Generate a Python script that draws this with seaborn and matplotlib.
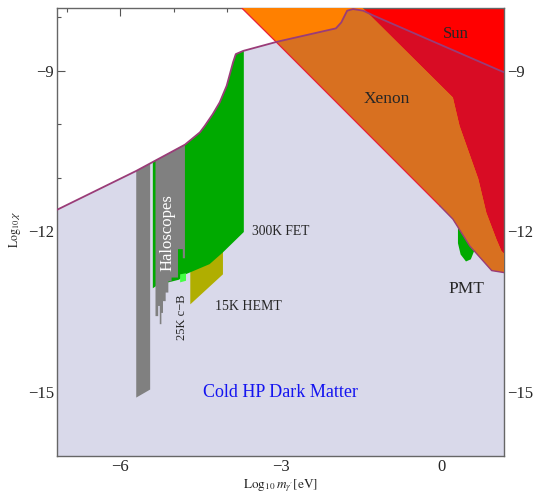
import numpy as np
import matplotlib
matplotlib.use("Agg")
import matplotlib.pyplot as plt
from matplotlib.ticker import MultipleLocator
import seaborn as sns

# upper edge of the cold hidden-photon dark matter region (log10 m [eV], log10 chi)
dm_x = [-7.25, -5.70, -4.79, -4.51, -4.42, -4.27, -4.14, -4.01, -3.89, -3.84, -3.70,
        -3.07, -1.97, -1.87, -1.76, -1.65, -1.46, -1.27, 1.10, 1.25]
dm_y = [-11.63, -10.87, -10.38, -10.15, -10.03, -9.81, -9.59, -9.28, -8.84, -8.69, -8.63,
        -8.46, -8.21, -8.10, -7.88, -7.85, -7.88, -7.97, -9.00, -9.06]

# xenon bound outline
xenon_x = [-3.86, -3.08, -0.03, 0.215, 0.53, 0.94, 1.25, 1.25, 1.12, 1.03, 0.84, 0.69,
           0.34, 0.215, -1.60]
xenon_y = [-7.70, -8.47, -11.52, -11.77, -12.27, -12.73, -12.78, -12.50, -12.36, -12.15,
           -11.65, -11.02, -10.03, -9.50, -7.70]

# sun bound outline (partly under xenon)
sun_x = [-1.70, 1.30, 1.30, 0.90, 0.50, -0.20]
sun_y = [-7.70, -7.70, -12.90, -12.00, -10.80, -9.30]

# 300K FET (green), lower edge from right to left
fet_x0, fet_x1 = -5.39, -3.69
fet_bot_x = [-3.69, -4.08, -4.33, -4.78, -4.90, -5.30, -5.39]
fet_bot_y = [-12.01, -12.39, -12.61, -12.80, -12.90, -13.00, -13.06]

# 15K HEMT (olive)
hemt_x = [-4.69, -4.08, -4.08, -4.69]
hemt_y = [-12.70, -12.30, -12.80, -13.36]

# 25K c-B (light green)
cb_x = [-4.88, -4.77, -4.77, -4.88]
cb_y = [-12.80, -12.78, -12.92, -12.95]

# haloscopes: one long bar and a block with ragged bottom
halo1_x = [-5.70, -5.44]
halo1_bot = [-15.10, -14.95]
halo2_edges = [-5.34, -5.29, -5.26, -5.23, -5.20, -5.15, -5.10, -5.04, -4.98, -4.92,
               -4.89, -4.83, -4.79]
halo2_bot = [-13.58, -13.39, -13.73, -13.52, -13.30, -13.14, -12.93, -12.86, -12.86,
             -12.33, -12.33, -12.50]

# PMT blob
pmt_x = [0.31, 0.31, 0.36, 0.46, 0.55, 0.61, 0.62, 0.45]
pmt_y = [-11.85, -12.22, -12.43, -12.56, -12.52, -12.37, -12.20, -11.85]

sns.set_style("ticks")
plt.rcParams["font.family"] = ["Liberation Serif", "DejaVu Serif"]
plt.rcParams["mathtext.fontset"] = "stix"

lavender = "#D9D9EA"
purple = "#9A3C78"

fig = plt.figure(figsize=(5.35, 4.94), dpi=100)
ax = fig.add_axes([57 / 535, 1 - 456 / 494, 447 / 535, 448 / 494])


def dm_top(x):
    return np.interp(x, dm_x, dm_y)


# dark matter region
dm_patch = ax.fill(dm_x + [dm_x[-1], dm_x[0]], dm_y + [-16.5, -16.5],
                   color=lavender, lw=0, zorder=1)[0]

ax.fill(pmt_x, pmt_y, color="#00AA00", lw=0, zorder=1.5)

# sun: bright outside DM region, darker inside
ax.fill(sun_x, sun_y, color="#FF0000", lw=0, zorder=2)
p = ax.fill(sun_x, sun_y, color="#D80C24", lw=0, zorder=2.1)[0]
p.set_clip_path(dm_patch)

# xenon
ax.fill(xenon_x, xenon_y, color="#FF8000", lw=0, zorder=3)
p = ax.fill(xenon_x, xenon_y, color="#D87020", lw=0, zorder=3.1)[0]
p.set_clip_path(dm_patch)
ax.plot(xenon_x[:3], xenon_y[:3], color="#E8203A", lw=0.9, zorder=3.2)
ax.plot(xenon_x[2:7], xenon_y[2:7], color=purple, lw=1.0, zorder=3.2)

# lab experiments
ax.fill(hemt_x, hemt_y, color="#B0AE00", lw=0, zorder=4)
seg = [x for x in dm_x if fet_x0 < x < fet_x1]
fx = [fet_x0] + seg + [fet_x1] + fet_bot_x
fy = [dm_top(fet_x0)] + [dm_top(x) for x in seg] + [dm_top(fet_x1)] + fet_bot_y
ax.fill(fx, fy, color="#00AA00", lw=0, zorder=4.1)
ax.fill(cb_x, cb_y, color="#44FF44", lw=0, zorder=4.2)

hx = [halo1_x[0], halo1_x[1], halo1_x[1], halo1_x[0]]
hy = [dm_top(halo1_x[0]), dm_top(halo1_x[1]), halo1_bot[1], halo1_bot[0]]
ax.fill(hx, hy, color="#808080", lw=0, zorder=4.3)

hx = [halo2_edges[0], halo2_edges[-1]]
hy = [dm_top(halo2_edges[0]), dm_top(halo2_edges[-1])]
for i in range(len(halo2_bot) - 1, -1, -1):
    hx += [halo2_edges[i + 1], halo2_edges[i]]
    hy += [halo2_bot[i], halo2_bot[i]]
ax.fill(hx, hy, color="#808080", lw=0, zorder=4.3)

# DM boundary line
sns.lineplot(x=dm_x, y=dm_y, color=purple, lw=1.3, ax=ax, zorder=5)

# labels
ax.text(0.27, -8.31, "Sun", fontsize=12, ha="center", va="center", zorder=6)
ax.text(-1.01, -9.53, "Xenon", fontsize=12.5, ha="center", va="center", zorder=6)
ax.text(-3.54, -12.01, "300K FET", fontsize=9.8, ha="left", va="center", zorder=6)
ax.text(-4.22, -13.40, "15K HEMT", fontsize=10, ha="left", va="center", zorder=6)
ax.text(-4.84, -13.60, "25K c\u2212B", fontsize=9, rotation=90, ha="center",
        va="center", zorder=6)
ax.text(-5.11, -12.02, "Haloscopes", fontsize=12, rotation=90, ha="center",
        va="center", color="white", zorder=6)
ax.text(0.46, -13.08, "PMT", fontsize=12.5, ha="center", va="center", zorder=6)
ax.text(-3.01, -15.0, "Cold HP Dark Matter", fontsize=13, ha="center", va="center",
        color="#1414F0", zorder=6)

ax.set_xlim(-7.18, 1.17)
ax.set_ylim(-16.19, -7.83)
ax.xaxis.set_major_locator(MultipleLocator(3))
ax.xaxis.set_minor_locator(MultipleLocator(1))
ax.yaxis.set_major_locator(MultipleLocator(3))
ax.yaxis.set_minor_locator(MultipleLocator(1))
ax.tick_params(which="both", direction="in", top=True, right=True, labelright=True,
               labelsize=12, color="#555555", pad=2)
ax.tick_params(which="major", length=6, width=0.8)
ax.tick_params(which="minor", length=3, width=0.8)
for s in ax.spines.values():
    s.set_color("#666666")
    s.set_linewidth(1.0)
ax.set_xlabel("")
ax.set_ylabel("")

fig.text(280.5 / 535, 1 - 486 / 494, r"$\mathrm{Log}_{10}\,m_{\gamma^{\prime}}[\mathrm{eV}]$",
         fontsize=9.5, ha="center", va="center")
fig.text(15 / 535, 1 - 229 / 494, r"$\mathrm{Log}_{10}\,\chi$", fontsize=8.5, rotation=90,
         ha="center", va="center")

fig.savefig("out.png", dpi=100)
